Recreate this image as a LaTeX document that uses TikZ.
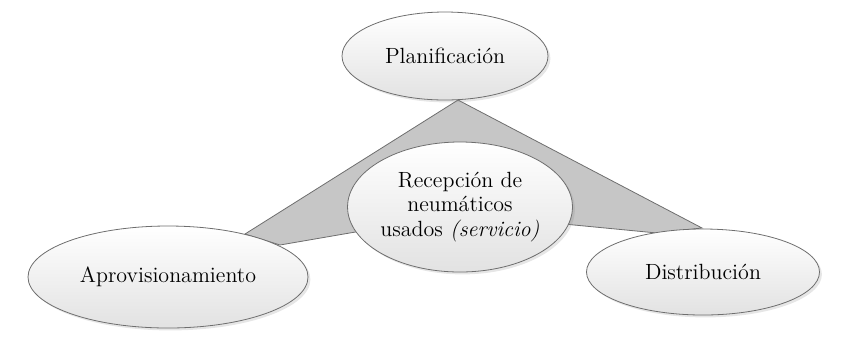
\documentclass[tikz,border=0pt]{standalone}
\usepackage{tikz}
\usetikzlibrary{shapes.geometric, shadows, backgrounds, positioning}
\definecolor{wedgegray}{RGB}{198,198,198}
\definecolor{edgegray}{RGB}{110,110,110}
\definecolor{ovalbot}{RGB}{226,226,226}

\begin{document}
\begin{tikzpicture}[x=0.5pt, y=-0.5pt,
  oval/.style={ellipse, draw=edgegray, line width=0.4pt, top color=white, bottom color=ovalbot,
    drop shadow={shadow xshift=1.2pt, shadow yshift=-1.2pt, opacity=0.2},
    inner sep=0pt, align=center, font=\fontsize{11}{12.3}\selectfont}]
  \useasboundingbox (0,0) rectangle (850,350);

  % the four ovals
  \node[oval, minimum width=103pt, minimum height=44pt] (plan) at (445,56) {Planificación};
  \node[oval, minimum width=110pt, minimum height=65pt] (recep) at (460,207)
    {Recepción de\\neumáticos\\usados \textit{(servicio)}};
  \node[oval, minimum width=140pt, minimum height=51pt] (aprov) at (168,277) {Aprovisionamiento};
  \node[oval, minimum width=116.5pt, minimum height=43pt] (dist) at (703,272) {Distribución};

  % converging wedge behind them
  \coordinate (apex) at (458,100);
  \coordinate (aprovtip) at (245,234);
  \coordinate (aprovbase) at (280,245);
  \coordinate (mid) at (460,214);
  \coordinate (distbase) at (657,233);
  \coordinate (disttip) at (702,228);
  \begin{scope}[on background layer]
    \draw[draw=edgegray, line width=0.4pt, fill=wedgegray]
      (apex) -- (aprovtip) -- (aprovbase) -- (mid) -- (distbase) -- (disttip) -- cycle;
  \end{scope}
\end{tikzpicture}
\end{document}
